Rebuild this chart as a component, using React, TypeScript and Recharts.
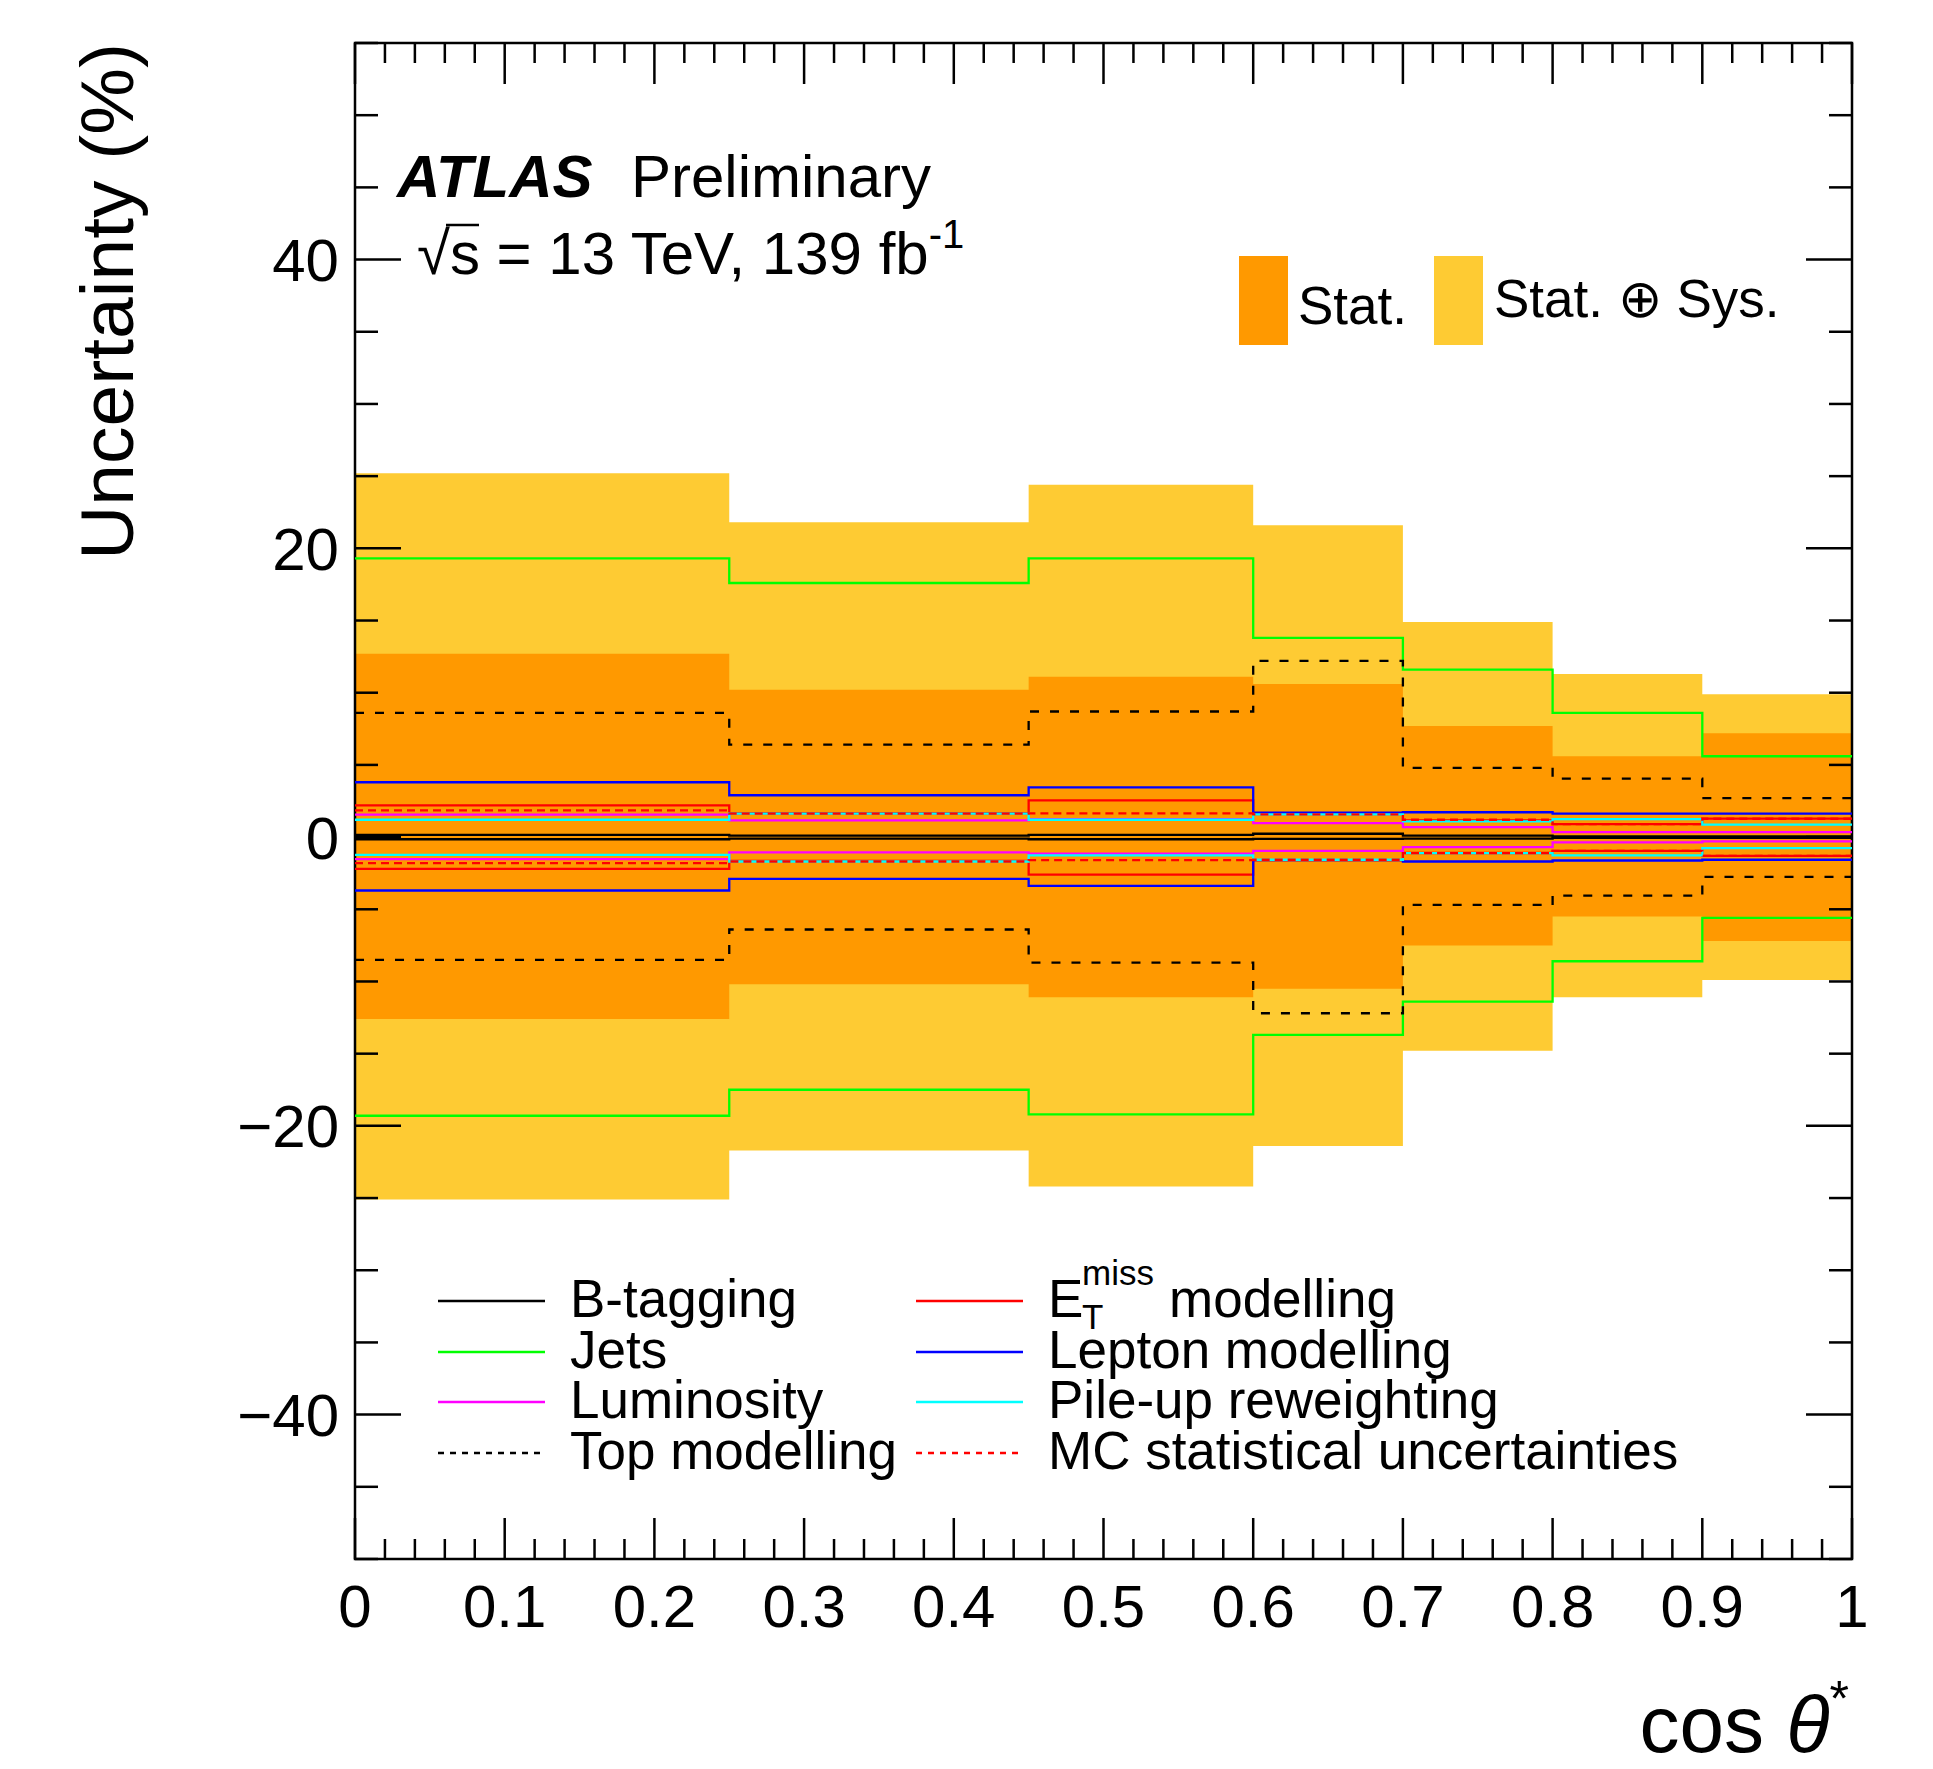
import React from "react";
import { ComposedChart, Area, Line, XAxis, YAxis, ReferenceArea } from "recharts";

// bin edges in cos(theta*)
const binEdges = [0, 0.25, 0.45, 0.6, 0.7, 0.8, 0.9, 1.0];

// total (stat + sys) and stat-only bands, in %
const statSysUp = [25.2, 21.8, 24.4, 21.6, 14.9, 11.3, 9.9];
const statSysDown = [-25.1, -21.7, -24.2, -21.4, -14.8, -11.1, -9.9];
const statUp = [12.7, 10.2, 11.1, 10.6, 7.7, 5.6, 7.2];
const statDown = [-12.6, -10.2, -11.1, -10.5, -7.5, -5.5, -7.2];

// individual systematics
const btagUp = [0.15, 0.1, 0.15, 0.23, 0.1, 0.05, 0.05];
const btagDown = [-0.15, -0.1, -0.15, -0.12, -0.1, -0.05, -0.05];
const etmissUp = [2.2, 1.65, 2.55, 1.6, 1.15, 0.9, 1.28];
const etmissDown = [-2.2, -1.65, -2.6, -1.6, -1.1, -0.95, -1.3];
const jetsUp = [19.3, 17.6, 19.3, 13.8, 11.6, 8.6, 5.6];
const jetsDown = [-19.3, -17.5, -19.2, -13.7, -11.4, -8.6, -5.6];
const leptonUp = [3.8, 2.9, 3.45, 1.7, 1.72, 1.62, 1.62];
const leptonDown = [-3.7, -2.9, -3.38, -1.6, -1.69, -1.62, -1.57];
const lumiUp = [1.55, 1.16, 1.25, 0.97, 0.69, 0.35, 0.35];
const lumiDown = [-1.53, -1.06, -1.15, -0.95, -0.69, -0.37, -0.3];
const pileupUp = [1.2, 1.62, 1.2, 1.57, 1.09, 1.25, 0.86];
const pileupDown = [-1.23, -1.69, -1.27, -1.57, -1.11, -1.27, -0.76];
const topUp = [8.6, 6.4, 8.7, 12.2, 4.8, 4.05, 2.7];
const topDown = [-8.5, -6.4, -8.7, -12.2, -4.7, -4.05, -2.75];
const mcStatUp = [1.85, 1.62, 1.64, 1.57, 1.2, 0.9, 1.27];
const mcStatDown = [-1.8, -1.69, -1.6, -1.57, -1.11, -0.95, -1.3];

const xMajorTicks = [0, 0.1, 0.2, 0.3, 0.4, 0.5, 0.6, 0.7, 0.8, 0.9, 1];
const yMajorTicks = [-40, -20, 0, 20, 40];

const xTicks: number[] = [];
for (let k = 0; k <= 50; k++) xTicks.push(Math.round(k * 2) / 100);
const yTicks: number[] = [];
for (let v = -50; v <= 55; v += 5) yTicks.push(v);

const systs = [
  { key: "btag", label: "B-tagging", color: "#000000", dash: undefined, up: btagUp, down: btagDown },
  { key: "etmiss", label: "ETmiss", color: "#ff0000", dash: undefined, up: etmissUp, down: etmissDown },
  { key: "jets", label: "Jets", color: "#00ff00", dash: undefined, up: jetsUp, down: jetsDown },
  { key: "lepton", label: "Lepton modelling", color: "#0000ff", dash: undefined, up: leptonUp, down: leptonDown },
  { key: "lumi", label: "Luminosity", color: "#ff00ff", dash: undefined, up: lumiUp, down: lumiDown },
  { key: "pileup", label: "Pile-up reweighting", color: "#00ffff", dash: undefined, up: pileupUp, down: pileupDown },
  { key: "top", label: "Top modelling", color: "#000000", dash: "9 11", up: topUp, down: topDown },
  { key: "mc", label: "MC statistical uncertainties", color: "#ff0000", dash: "8 5", up: mcStatUp, down: mcStatDown },
];

const pick = (arr: number[], i: number) => arr[Math.min(i, arr.length - 1)];

const rows = binEdges.map((x, i) => {
  const r: any = {
    x,
    statSys: [pick(statSysDown, i), pick(statSysUp, i)],
    stat: [pick(statDown, i), pick(statUp, i)],
  };
  systs.forEach((s) => {
    r[s.key + "Up"] = pick(s.up, i);
    r[s.key + "Down"] = pick(s.down, i);
  });
  return r;
});

const W = 1917;
const H = 1761;
const LEFT = 347;
const RIGHT = 1844;
const TOP = 35;
const BOTTOM = 1551;
const FONT = "'Liberation Sans', Arial, Helvetica, sans-serif";
const YELLOW = "#fecb33";
const ORANGE = "#ff9900";

const isMajorX = (v: number) => xMajorTicks.some((m) => Math.abs(m - v) < 1e-6);
const fmtX = (v: number) => (v === 0 ? "0" : v === 1 ? "1" : v.toFixed(1));

const XTick = (props: any) => {
  const { x, payload } = props;
  const major = isMajorX(payload.value);
  const len = major ? 41 : 20;
  return (
    <g>
      <line x1={x} x2={x} y1={BOTTOM} y2={BOTTOM - len} stroke="#000" strokeWidth={2.5} />
      <line x1={x} x2={x} y1={TOP} y2={TOP + len} stroke="#000" strokeWidth={2.5} />
      {major && (
        <text x={x} y={BOTTOM + 68} textAnchor="middle" fontSize={60} fontFamily={FONT} fill="#000">
          {fmtX(payload.value)}
        </text>
      )}
    </g>
  );
};

const YTick = (props: any) => {
  const { y, payload } = props;
  const major = yMajorTicks.includes(payload.value);
  const len = major ? 46 : 23;
  const v = payload.value;
  return (
    <g>
      <line x1={LEFT} x2={LEFT + len} y1={y} y2={y} stroke="#000" strokeWidth={2.5} />
      <line x1={RIGHT} x2={RIGHT - len} y1={y} y2={y} stroke="#000" strokeWidth={2.5} />
      {major && (
        <text x={LEFT - 16} y={y} dy="0.36em" textAnchor="end" fontSize={60} fontFamily={FONT} fill="#000">
          {v < 0 ? "\u2212" + Math.abs(v) : String(v)}
        </text>
      )}
    </g>
  );
};

const legendRows = [1293, 1344, 1394, 1445];
const col1 = [systs[0], systs[2], systs[4], systs[6]];
const col2 = [systs[1], systs[3], systs[5], systs[7]];
const LEG_FONT = 53;

function Overlay() {
  return (
    <svg
      width={W}
      height={H}
      style={{ position: "absolute", left: 0, top: 0, overflow: "visible", pointerEvents: "none" }}
      fontFamily={FONT}
    >
      <text x={389} y={189} fontSize={60} fontWeight="bold" fontStyle="italic">ATLAS</text>
      <text x={623} y={189} fontSize={60}>Preliminary</text>
      <text x={409} y={266} fontSize={60}>
        √s = 13 TeV, 139 fb<tspan dy={-26} fontSize={40}>-1</tspan>
      </text>
      <line x1={438} x2={471} y1={217} y2={217} stroke="#000" strokeWidth={2.5} />

      <rect x={1231} y={248} width={49} height={89} fill={ORANGE} />
      <text x={1290} y={316} fontSize={LEG_FONT}>Stat.</text>
      <rect x={1426} y={248} width={49} height={89} fill={YELLOW} />
      <text x={1486} y={309} fontSize={LEG_FONT}>Stat. ⊕ Sys.</text>

      {col1.map((s, i) => (
        <g key={s.key}>
          <line x1={430} x2={537} y1={legendRows[i]} y2={legendRows[i]} stroke={s.color} strokeWidth={2.5} strokeDasharray={s.dash ? "6 6" : undefined} />
          <text x={562} y={legendRows[i] + 16} fontSize={LEG_FONT}>{s.label}</text>
        </g>
      ))}
      {col2.map((s, i) => (
        <g key={s.key}>
          <line x1={908} x2={1015} y1={legendRows[i]} y2={legendRows[i]} stroke={s.color} strokeWidth={2.5} strokeDasharray={s.dash ? "6 6" : undefined} />
          {s.key === "etmiss" ? (
            <g>
              <text x={1040} y={legendRows[i] + 16} fontSize={LEG_FONT}>E</text>
              <text x={1074} y={legendRows[i] - 16} fontSize={35}>miss</text>
              <text x={1074} y={legendRows[i] + 28} fontSize={35}>T</text>
              <text x={1161} y={legendRows[i] + 16} fontSize={LEG_FONT}>modelling</text>
            </g>
          ) : (
            <text x={1040} y={legendRows[i] + 16} fontSize={LEG_FONT}>{s.label}</text>
          )}
        </g>
      ))}

      <text transform={`translate(125,${TOP}) rotate(-90)`} textAnchor="end" fontSize={75}>
        Uncertainty (%)
      </text>
      <text x={1841} y={1744} textAnchor="end" fontSize={80}>
        cos <tspan fontStyle="italic">θ</tspan>
        <tspan dy={-36} fontSize={50}>*</tspan>
      </text>
    </svg>
  );
}

export default function App() {
  return (
    <div style={{ position: "relative", width: W, height: H, background: "#fff" }}>
      <ComposedChart width={W} height={H} data={rows} margin={{ top: TOP, right: W - RIGHT, bottom: 110, left: 0 }}>
        <Area type="stepAfter" dataKey="statSys" fill={YELLOW} fillOpacity={1} stroke="none" isAnimationActive={false} />
        <Area type="stepAfter" dataKey="stat" fill={ORANGE} fillOpacity={1} stroke="none" isAnimationActive={false} />
        {systs.map((s) => [
          <Line
            key={s.key + "Up"}
            type="stepAfter"
            dataKey={s.key + "Up"}
            stroke={s.color}
            strokeWidth={2.3}
            strokeDasharray={s.dash}
            dot={false}
            activeDot={false}
            isAnimationActive={false}
          />,
          <Line
            key={s.key + "Down"}
            type="stepAfter"
            dataKey={s.key + "Down"}
            stroke={s.color}
            strokeWidth={2.3}
            strokeDasharray={s.dash}
            dot={false}
            activeDot={false}
            isAnimationActive={false}
          />,
        ])}
        <XAxis
          dataKey="x"
          type="number"
          domain={[0, 1]}
          ticks={xTicks}
          interval={0}
          allowDataOverflow
          height={100}
          axisLine={false}
          tickLine={false}
          tick={<XTick />}
        />
        <YAxis
          type="number"
          domain={[-50, 55]}
          ticks={yTicks}
          interval={0}
          allowDataOverflow
          width={LEFT}
          axisLine={false}
          tickLine={false}
          tick={<YTick />}
        />
        <ReferenceArea x1={0} x2={1} y1={-50} y2={55} fill="none" stroke="#000" strokeWidth={2.5} ifOverflow="visible" />
      </ComposedChart>
      <Overlay />
    </div>
  );
}
